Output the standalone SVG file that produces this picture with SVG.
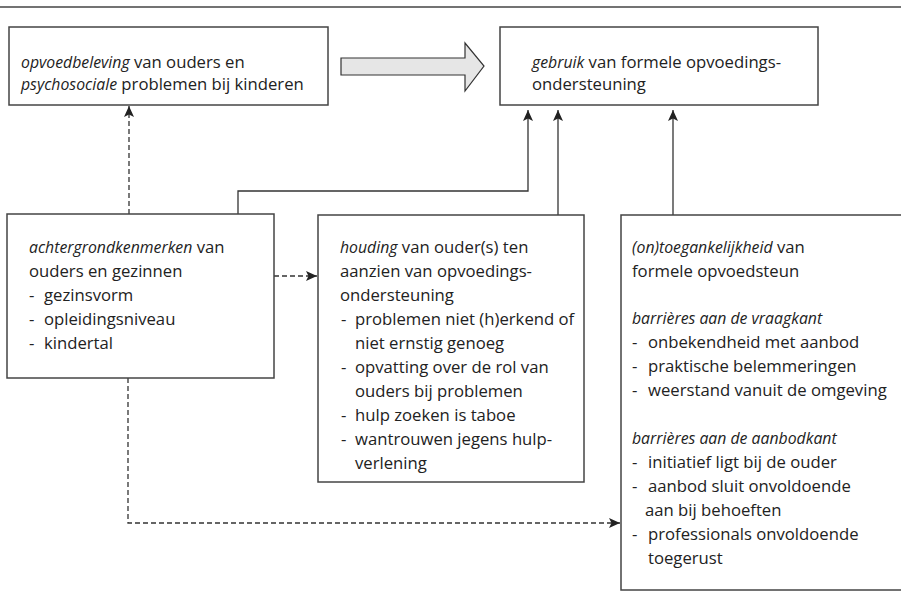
<svg xmlns="http://www.w3.org/2000/svg" width="901" height="612" viewBox="0 0 901 612">
<defs>
<marker id="ah" markerUnits="userSpaceOnUse" markerWidth="11" markerHeight="10" viewBox="0 0 11 10" refX="11" refY="5" orient="auto">
<path d="M0,0 L11,5 L0,10 L2.5,5 z" fill="#222"/>
</marker>
</defs>
<style>
.box{fill:#fff;stroke:#444;stroke-width:1.5}
.ln{fill:none;stroke:#333;stroke-width:1.3}
.ds{fill:none;stroke:#333;stroke-width:1.3;stroke-dasharray:5,3}
text{font-family:"Open Sans","Noto Sans",sans-serif;font-size:16.7px;fill:#222}
.i{font-style:italic;font-size:15.8px}
</style>
<rect width="901" height="612" fill="#fff"/>
<line x1="0" y1="7" x2="901" y2="7" stroke="#444" stroke-width="1.3"/>

<g id="connectors">
<path class="ds" d="M129,214 V106" marker-end="url(#ah)"/>
<path class="ln" d="M238,214 V191 H528 V110" marker-end="url(#ah)"/>
<path class="ln" d="M558,215 V110" marker-end="url(#ah)"/>
<path class="ln" d="M673,215 V110" marker-end="url(#ah)"/>
<path class="ds" d="M274,276 H317" marker-end="url(#ah)"/>
<path class="ds" d="M128,378 V523 H620" marker-end="url(#ah)"/>
<path d="M341,58 H465 V43 L484,66 L465,91 V75 H341 Z" fill="#e6e6e6" stroke="#333" stroke-width="1.2"/>
</g>

<g id="n1">
<rect class="box" x="9" y="27" width="319" height="78"/>
<text x="21" y="68"><tspan class="i">opvoedbeleving</tspan> van ouders en</text>
<text x="21" y="90"><tspan class="i">psychosociale</tspan> problemen bij kinderen</text>
</g>

<g id="n2">
<rect class="box" x="500" y="27" width="318" height="78"/>
<text x="532" y="68"><tspan class="i">gebruik</tspan> van formele opvoedings-</text>
<text x="532" y="90">ondersteuning</text>
</g>

<g id="n3">
<rect class="box" x="7" y="214" width="267" height="164"/>
<text x="29" y="253"><tspan class="i">achtergrondkenmerken</tspan> van</text>
<text x="29" y="277">ouders en gezinnen</text>
<text x="29" y="301">-</text><text x="44" y="301">gezinsvorm</text>
<text x="29" y="325">-</text><text x="44" y="325">opleidingsniveau</text>
<text x="29" y="349">-</text><text x="44" y="349">kindertal</text>
</g>

<g id="n4">
<rect class="box" x="318" y="215" width="266" height="267"/>
<text x="340" y="253"><tspan class="i">houding</tspan> van ouder(s) ten</text>
<text x="340" y="277">aanzien van opvoedings-</text>
<text x="340" y="301">ondersteuning</text>
<text x="341" y="325">-</text><text x="355" y="325">problemen niet (h)erkend of</text>
<text x="355" y="349">niet ernstig genoeg</text>
<text x="341" y="373">-</text><text x="355" y="373">opvatting over de rol van</text>
<text x="355" y="397">ouders bij problemen</text>
<text x="341" y="421">-</text><text x="355" y="421">hulp zoeken is taboe</text>
<text x="341" y="445">-</text><text x="355" y="445">wantrouwen jegens hulp-</text>
<text x="355" y="469">verlening</text>
</g>

<g id="n5">
<rect class="box" x="621" y="215" width="290" height="375"/>
<text x="632" y="253"><tspan class="i">(on)toegankelijkheid</tspan> van</text>
<text x="632" y="277">formele opvoedsteun</text>
<text x="632" y="324" class="i">barrières aan de vraagkant</text>
<text x="632" y="348">-</text><text x="648" y="348">onbekendheid met aanbod</text>
<text x="632" y="372">-</text><text x="648" y="372">praktische belemmeringen</text>
<text x="632" y="396">-</text><text x="648" y="396">weerstand vanuit de omgeving</text>
<text x="632" y="444" class="i">barrières aan de aanbodkant</text>
<text x="632" y="468">-</text><text x="648" y="468">initiatief ligt bij de ouder</text>
<text x="632" y="492">-</text><text x="648" y="492">aanbod sluit onvoldoende</text>
<text x="645" y="516">aan bij behoeften</text>
<text x="632" y="540">-</text><text x="648" y="540">professionals onvoldoende</text>
<text x="648" y="564">toegerust</text>
</g>
</svg>
